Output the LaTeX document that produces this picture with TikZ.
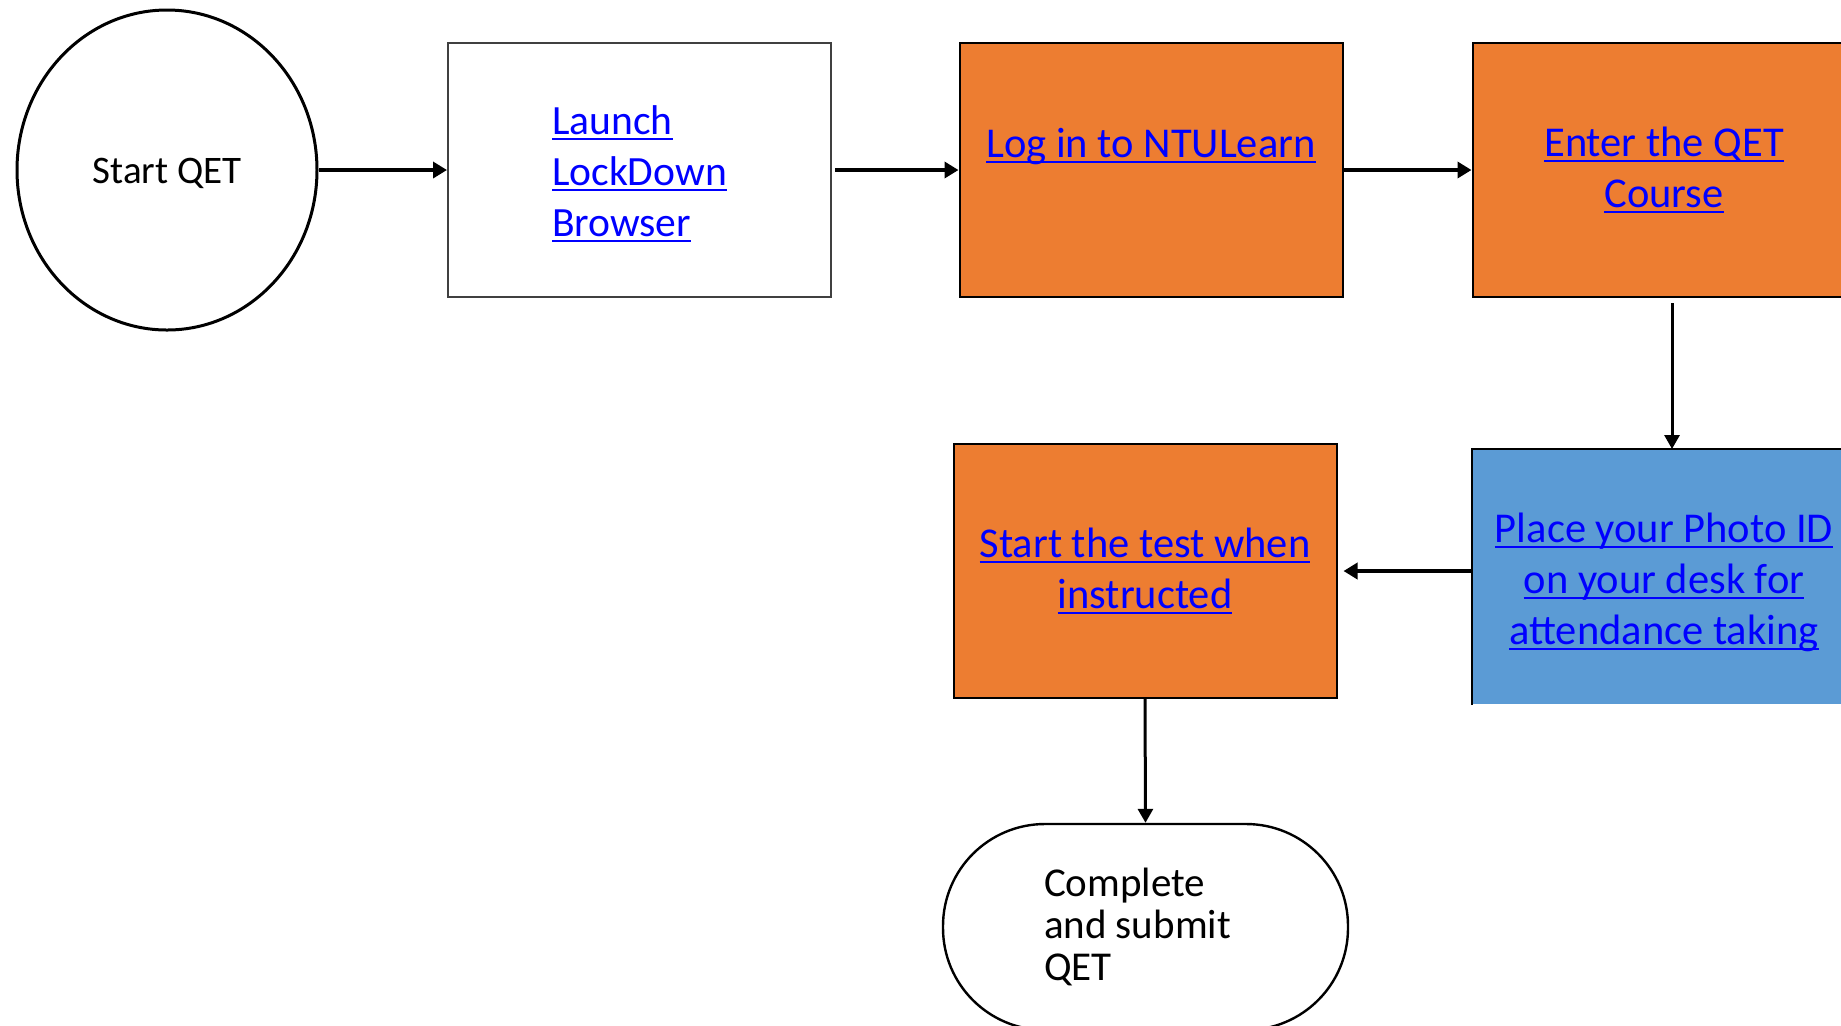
\documentclass[tikz,border=0pt]{standalone}
\usepackage{fontspec}
\setmainfont{Carlito}
\usetikzlibrary{arrows.meta,shapes.geometric}
\definecolor{orng}{HTML}{ED7D31}
\definecolor{blu}{HTML}{5B9BD5}
\definecolor{lnk}{HTML}{0000FF}
\newcommand{\mylink}[1]{\setbox0\hbox{#1}\rlap{\rule[-0.13em]{\wd0}{0.055em}}\box0}
\begin{document}
\begin{tikzpicture}[x=0.5pt,y=-0.5pt,
  box/.style={draw=black,line width=1pt,minimum width=191.5pt,minimum height=127pt,inner sep=0pt,align=center,text=lnk,font=\fontsize{21.25}{25.5}\selectfont},
  conn/.style={line width=1.9pt,-{Triangle[length=7pt,width=8pt]}},
  vconn/.style={line width=1.5pt,-{Triangle[length=7pt,width=7.5pt]}}]
\useasboundingbox[fill=white] (0,0) rectangle (1841,1025);
\node[ellipse,draw,line width=1.5pt,minimum width=150pt,minimum height=160pt,inner sep=0pt,font=\fontsize{19.5}{24}\selectfont] (start) at (167,170) {\raisebox{-1.5pt}[\height][\depth]{Start QET}};
\node[box,draw=darkgray,fill=white,align=left,font=\fontsize{20.8}{25.5}\selectfont] (launch) at (639.5,170) {\strut\\[-25pt]\mylink{Launch}\\\mylink{LockDown}\\\mylink{Browser}};
\node[box,fill=orng] (login) at (1151,170) {\mylink{Log in to NTULearn}\\[-6pt]\strut};
\node[box,fill=orng] (enter) at (1664,170) {\mylink{Enter the QET}\\\mylink{Course}};
\node[box,draw=none,fill=blu] (place) at (1664,577) {\strut\\[-23pt]\mylink{Place your Photo ID}\\\mylink{on your desk for}\\\mylink{attendance taking}};
\draw[line width=1pt] (place.south west) -- (place.north west) -- (place.north east);
\node[box,fill=orng] (test) at (1145,571) {\mylink{Start the test when}\\\mylink{instructed}};
\node[draw,line width=1.2pt,rounded corners=51pt,minimum width=202.5pt,minimum height=103pt,inner sep=0pt,align=left,font=\fontsize{20.5}{21}\selectfont] (done) at (1145.5,927) {Complete\\and submit\rule{8pt}{0pt}\\QET};
\draw[conn] (start.east) -- (launch.west);
\draw[conn] ([xshift=1.5pt]launch.east) -- (login.west);
\draw[conn] (login.east) -- (enter.west);
\draw[vconn] ([xshift=4pt,yshift=-2.5pt]enter.south) -- ([xshift=4pt]place.north);
\draw[conn] (test.east -| place.west) -- ([xshift=3pt]test.east);
\draw[vconn] (test.south) -- (done.north);
\end{tikzpicture}
\end{document}
